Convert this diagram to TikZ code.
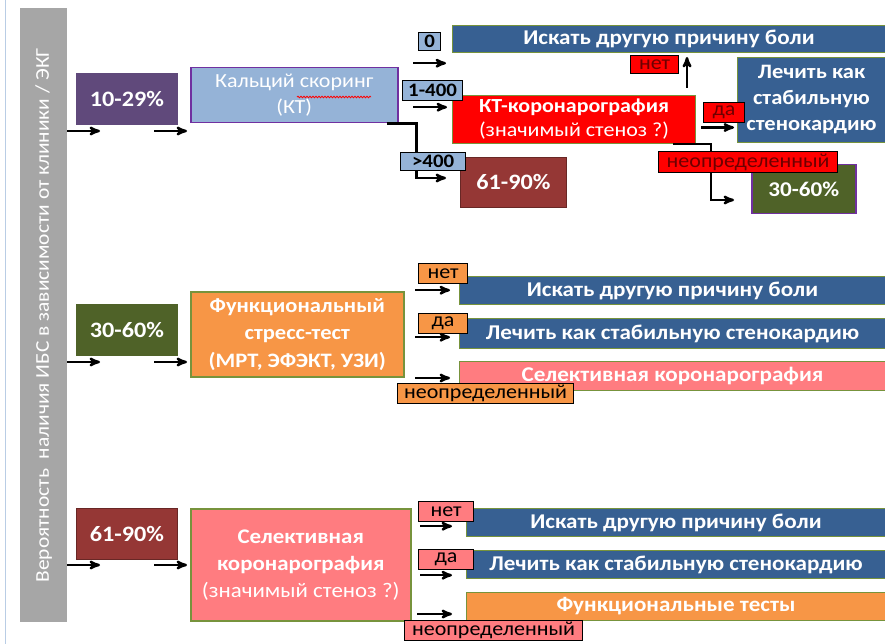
\documentclass[tikz,border=0pt]{standalone}
\usepackage{fontspec}
\setmainfont[FakeStretch=1.1]{Carlito}
\usetikzlibrary{arrows,decorations.pathmorphing}
\definecolor{barGray}{RGB}{166,166,166}
\definecolor{frameBlue}{RGB}{185,205,229}
\definecolor{probPurple}{RGB}{96,73,123}
\definecolor{skyBlue}{RGB}{149,179,215}
\definecolor{violet}{RGB}{112,48,160}
\definecolor{navy}{RGB}{55,96,146}
\definecolor{brick}{RGB}{149,55,53}
\definecolor{olive}{RGB}{79,98,40}
\definecolor{tangerine}{RGB}{247,150,70}
\definecolor{salmon}{RGB}{255,124,128}
\definecolor{leaf}{RGB}{119,147,60}
\definecolor{wine}{RGB}{110,0,0}
\tikzset{
	>=stealth',
	stage/.style={
		rectangle,
		anchor=north west,
		inner sep=0pt,
		draw=leaf, line width=1pt,
		text=white,
		align=center,
		font=\bfseries\fontsize{21}{24}\selectfont},
	prob/.style={
		stage,
		minimum width=101pt,
		minimum height=51pt,
		font=\bfseries\fontsize{22}{24}\selectfont},
	bar/.style={stage, minimum height=28pt},
	tag/.style={
		rectangle,
		anchor=north west,
		inner sep=0pt,
		minimum height=20pt,
		draw=black, line width=1.2pt,
		font=\fontsize{20}{20}\selectfont},
	numtag/.style={tag, fill=skyBlue, font=\bfseries\fontsize{19}{20}\selectfont},
	arr/.style={->, line width=2.4pt},
}

\begin{document}
\begin{tikzpicture}[x=1pt, y=-1pt]
	\useasboundingbox (0,0) rectangle (885,644);
	\draw[frameBlue, line width=1pt] (5,0) -- (5,644);
	\node[rectangle, anchor=north west, fill=barGray, minimum width=47pt, minimum height=614pt, inner sep=0pt] (side) at (20,8) {};
	\node[rotate=90, text=white, font=\fontsize{19.5}{20}\selectfont] (sidetext) at (side.center) {Вероятность\ \ наличия ИБС в зависимости от клиники / ЭКГ};

	% 10-29%
	\node[prob, fill=probPurple, draw=probPurple] (p1) at (76,73) {10-29\%};
	\node[stage, fill=skyBlue, draw=violet, line width=1.5pt, minimum width=207pt, minimum height=55pt, font=\fontsize{20}{26}\selectfont] (kal) at (190,67) {Кальций скоринг\\(КТ)};
	\draw[red, line width=0.8pt, decorate, decoration={snake, amplitude=0.8pt, segment length=3pt}] (297,97) -- (371,97);
	\node[bar, fill=navy, minimum width=433pt, minimum height=27pt] (isk1) at (452,25) {Искать другую причину боли};
	\node[stage, fill=red, minimum width=243pt, minimum height=48pt, font=\fontsize{20}{24}\selectfont] (kt) at (452,95) {\textbf{КТ-коронарография}\\(значимый стеноз ?)};
	\node[stage, fill=brick, draw=brick!70!black, minimum width=106pt, minimum height=50pt, font=\bfseries\fontsize{22}{24}\selectfont] (p61a) at (460,157) {61-90\%};
	\node[stage, fill=navy, minimum width=148pt, minimum height=85pt, font=\bfseries\fontsize{20.5}{26}\selectfont] (lech1) at (737,57) {Лечить как\\стабильную\\стенокардию};
	\node[stage, fill=olive, draw=violet, line width=1.5pt, minimum width=104pt, minimum height=49pt, font=\bfseries\fontsize{21}{24}\selectfont] (p30a) at (751,164) {30-60\%};

	\draw[arr] ([yshift=-6pt]side.east |- p1.south) -- ([xshift=24pt,yshift=-6pt]p1.south west);
	\draw[arr] ([xshift=-24pt,yshift=-6pt]p1.south east) -- ([xshift=-3pt,yshift=-6pt]p1.south east -| kal.west);
	\draw[arr] ([xshift=-12pt]kal.south east) -- ([xshift=18pt]kal.south east) |- ([xshift=-14pt,yshift=-21pt]p61a.north west);
	\draw[arr] ([xshift=-9pt,yshift=7pt]kt.north east) -- ([xshift=-9pt,yshift=-4pt]kt.north east |- isk1.south);
	\draw[arr] ([xshift=5pt,yshift=-8pt]kt.east) -- ([xshift=-3pt,yshift=-8pt]kt.east -| lech1.west);
	\draw[arr] ([xshift=-23pt]kt.south east) -- ([xshift=15pt]kt.south east) |- ([xshift=-17pt,yshift=-36pt]p30a.north west);

	\node[numtag, minimum width=22pt, minimum height=18pt] (t0) at (418,32) {0};
	\node[numtag, minimum width=60pt] (t1400) at (402,80) {1-400};
	\node[numtag, minimum width=65pt, minimum height=18pt] (t400) at (400,152) {>400};
	\node[tag, fill=red, text=wine, minimum width=48pt, minimum height=18pt] (tNo1) at (630,55) {нет};
	\node[tag, fill=red, text=wine, minimum width=41pt] (tYes1) at (703,102) {да};
	\node[tag, fill=red, text=wine, minimum width=179pt, minimum height=21pt] (tUnd1) at (658,151) {неопределенный};

	\draw[arr] ([xshift=-5pt,yshift=-12pt]t0.south west) -- ([xshift=-6pt,yshift=-12pt]t0.south west -| isk1.west);
	\draw[arr] ([xshift=11pt,yshift=-6pt]t1400.south west) -- ([xshift=-5pt,yshift=-6pt]t1400.south west -| kt.west);

	% 30-60%
	\node[prob, fill=olive, draw=olive] (p2) at (76,304) {30-60\%};
	\node[stage, fill=tangerine, line width=1.5pt, minimum width=213pt, minimum height=85pt, font=\bfseries\fontsize{20.5}{27.5}\selectfont] (func) at (190,291) {Функциональный\\стресс-тест\\(МРТ, ЭФЭКТ, УЗИ)};
	\node[bar, fill=navy, minimum width=426pt] (isk2) at (459,276) {Искать другую причину боли};
	\node[bar, fill=navy, minimum width=426pt, minimum height=30pt] (lech2) at (459,318) {Лечить как стабильную стенокардию};
	\node[bar, fill=salmon, minimum width=426pt, minimum height=29pt] (sel2) at (459,361) {Селективная коронарография};

	\draw[arr] ([yshift=-6pt]side.east |- p2.south) -- ([xshift=24pt,yshift=-6pt]p2.south west);
	\draw[arr] ([xshift=-24pt,yshift=-6pt]p2.south east) -- ([xshift=-3pt,yshift=-6pt]p2.south east -| func.west);

	\node[tag, fill=tangerine, minimum width=49pt] (tNo2) at (418,263) {нет};
	\node[tag, fill=tangerine, minimum width=49pt] (tYes2) at (418,313) {да};
	\node[tag, fill=tangerine, minimum width=176pt] (tUnd2) at (397,383) {неопределенный};

	\draw[arr] ([xshift=-3pt,yshift=-6pt]tNo2.south west) -- ([xshift=-9pt,yshift=-6pt]tNo2.south west -| isk2.west);
	\draw[arr] ([xshift=-3pt,yshift=-3pt]tYes2.south west) -- ([xshift=-9pt,yshift=-3pt]tYes2.south west -| lech2.west);
	\draw[arr] ([xshift=18pt,yshift=5pt]tUnd2.north west) -- ([xshift=-9pt,yshift=5pt]tUnd2.north west -| sel2.west);

	% 61-90%
	\node[prob, fill=brick, draw=brick!70!black] (p3) at (76,508) {61-90\%};
	\node[stage, fill=salmon, line width=1.5pt, minimum width=220pt, minimum height=112pt, font=\fontsize{20.8}{27}\selectfont] (sel) at (190,508) {\textbf{Селективная}\\\textbf{коронарография}\\(значимый стеноз ?)};
	\node[bar, fill=navy, minimum width=419pt] (isk3) at (466,508) {Искать другую причину боли};
	\node[bar, fill=navy, minimum width=419pt] (lech3) at (466,550) {Лечить как стабильную стенокардию};
	\node[bar, fill=tangerine, minimum width=419pt] (ft3) at (466,592) {Функциональные тесты};

	\draw[arr] ([yshift=-5pt]side.east |- p3.south) -- ([xshift=24pt,yshift=-5pt]p3.south west);
	\draw[arr] ([xshift=-24pt,yshift=-5pt]p3.south east) -- ([xshift=-3pt,yshift=-5pt]p3.south east -| sel.west);

	\node[tag, fill=salmon, minimum width=55pt] (tNo3) at (418,501) {нет};
	\node[tag, fill=salmon, minimum width=55pt] (tYes3) at (418,549) {да};
	\node[tag, fill=salmon, minimum width=178pt] (tUnd3) at (404,620) {неопределенный};

	\draw[arr] ([xshift=2pt,yshift=-4pt]tNo3.south west) -- ([xshift=-14pt,yshift=-4pt]tNo3.south west -| isk3.west);
	\draw[arr] ([xshift=2pt,yshift=-5pt]tYes3.south west) -- ([xshift=-14pt,yshift=-5pt]tYes3.south west -| lech3.west);
	\draw[arr] ([xshift=13pt,yshift=6pt]tUnd3.north west) -- ([xshift=-14pt,yshift=6pt]tUnd3.north west -| ft3.west);
\end{tikzpicture}
\end{document}
